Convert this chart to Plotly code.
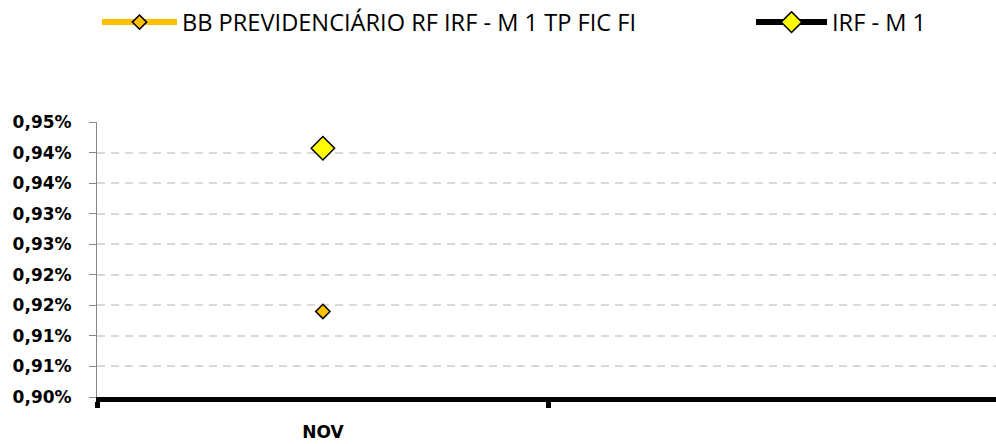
import plotly.graph_objects as go

# ---- data ----
months = ["NOV"]
fund_name = "BB PREVIDENCIÁRIO RF IRF - M 1 TP FIC FI"
bench_name = "IRF - M 1"
fund_values = [0.9140]
bench_values = [0.9407]
y_tick_values = [0.900, 0.905, 0.910, 0.915, 0.920, 0.925, 0.930, 0.935, 0.940, 0.945]
y_tick_labels = ["0,90%", "0,91%", "0,91%", "0,92%", "0,92%", "0,93%", "0,93%", "0,94%", "0,94%", "0,95%"]

x_pos = list(range(len(months)))

fig = go.Figure()
fig.add_trace(go.Scatter(
    x=x_pos, y=fund_values, name=fund_name, mode="lines+markers",
    line=dict(color="#FFC000", width=6),
    marker=dict(symbol="diamond", size=11, color="#FFC000", line=dict(color="#000000", width=1.5)),
    legend="legend",
))
fig.add_trace(go.Scatter(
    x=x_pos, y=bench_values, name=bench_name, mode="lines+markers",
    line=dict(color="#000000", width=6),
    marker=dict(symbol="diamond", size=18, color="#FFFF00", line=dict(color="#000000", width=1.5)),
    legend="legend2",
))

fig.update_layout(
    width=996, height=444,
    margin=dict(l=97, r=0, t=122, b=47, autoexpand=False),
    plot_bgcolor="white", paper_bgcolor="white",
    legend=dict(x=0.0, y=1.3627, xanchor="left", yanchor="middle", orientation="h",
                font=dict(family="Open Sans", size=23.6, color="#000000"),
                itemwidth=75, bgcolor="rgba(0,0,0,0)"),
    legend2=dict(x=0.7275, y=1.3627, xanchor="left", yanchor="middle", orientation="h",
                 font=dict(family="Open Sans", size=23.6, color="#000000"),
                 itemwidth=71, bgcolor="rgba(0,0,0,0)"),
    showlegend=True,
)

fig.update_xaxes(
    range=[-0.5, 1.49], automargin=False,
    tickmode="array", tickvals=x_pos, ticktext=months, ticks="",
    tickfont=dict(family="DejaVu Sans", size=17, color="#000000", weight="bold"),
    ticklabelstandoff=16,
    showline=True, linecolor="#000000", linewidth=5,
    showgrid=False, zeroline=False,
    minor=dict(tickmode="linear", tick0=-0.5, dtick=1, ticks="outside", ticklen=6, tickwidth=5, tickcolor="#000000", showgrid=False),
)
fig.update_yaxes(
    range=[y_tick_values[0], y_tick_values[-1]], automargin=False,
    tickmode="array", tickvals=y_tick_values, ticktext=y_tick_labels,
    ticks="outside", ticklen=7, tickcolor="#868686", tickwidth=1,
    ticklabelstandoff=14,
    tickfont=dict(family="DejaVu Sans", size=17, color="#000000", weight="bold"),
    showline=True, linecolor="#868686", linewidth=1,
    showgrid=True, gridcolor="#D9D9D9", gridwidth=2, griddash="8px,6px",
    zeroline=False,
)

fig.write_html("out.html", config={"displayModeBar": False},
               post_script="document.body.style.margin='0px';")
